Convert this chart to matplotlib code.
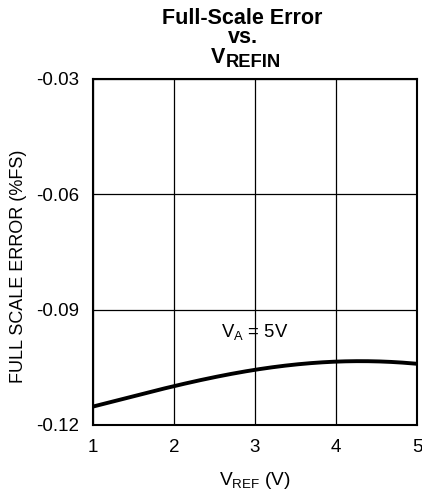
import matplotlib
matplotlib.use("Agg")
import matplotlib.pyplot as plt
import numpy as np

plt.rcParams['font.family'] = ['Liberation Sans', 'DejaVu Sans']
plt.rcParams['mathtext.fontset'] = 'custom'
plt.rcParams['mathtext.rm'] = 'Liberation Sans'
plt.rcParams['mathtext.it'] = 'Liberation Sans'
plt.rcParams['mathtext.bf'] = 'Liberation Sans:bold'

vref = [1.0, 1.5, 2.0, 2.5, 3.0, 3.5, 4.0, 4.3, 4.5, 5.0]
fs_error = [-0.1152, -0.1125, -0.1099, -0.1076, -0.1055, -0.1044, -0.1035, -0.1034, -0.1034, -0.1041]
xticks = [1, 2, 3, 4, 5]
yticks = [-0.12, -0.09, -0.06, -0.03]
ytick_labels = ["-0.12", "-0.09", "-0.06", "-0.03"]

W, H = 422, 491
fig = plt.figure(figsize=(W / 100, H / 100), dpi=100)
ax = fig.add_axes([93 / W, 1 - 425 / H, (417 - 93) / W, (425 - 79) / H])

xs = np.linspace(1, 5, 200)
coef = np.polyfit(vref, fs_error, 4)
ax.plot(xs, np.polyval(coef, xs), color='black', linewidth=2.8, solid_capstyle='butt')

ax.set_xlim(1, 5)
ax.set_ylim(-0.12, -0.03)
ax.set_xticks(xticks)
ax.set_yticks(yticks)
ax.set_yticklabels(ytick_labels)
ax.grid(True, color='black', linewidth=0.9)
ax.tick_params(length=0, labelsize=13.5)
ax.tick_params(axis='x', pad=10)
ax.tick_params(axis='y', pad=10)
for s in ax.spines.values():
    s.set_linewidth(1.5)

ax.set_xlabel(r"V$_{\mathrm{REF}}$ (V)", fontsize=13.8, labelpad=10)
fig.text(19 / W, 1 - 266 / H, "FULL SCALE ERROR (%FS)", fontsize=13, rotation=90,
         ha='center', va='center')
ax.text(3.0, -0.0971, r"V$_{\mathrm{A}}$ = 5V", fontsize=13.3, ha='center', va='baseline')

cx = 242.5 / W
fig.text(cx, 1 - 24 / H, "Full-Scale Error", fontsize=15.5, fontweight='bold', ha='center', va='baseline')
fig.text(cx, 1 - 43 / H, "vs.", fontsize=15.5, fontweight='bold', ha='center', va='baseline')
fig.text(211 / W, 1 - 63 / H, "V", fontsize=15.5, fontweight='bold', ha='left', va='baseline')
fig.text(226 / W, 1 - 67 / H, "REFIN", fontsize=13.2, fontweight='bold', ha='left', va='baseline')

fig.savefig("out.png", dpi=100)
